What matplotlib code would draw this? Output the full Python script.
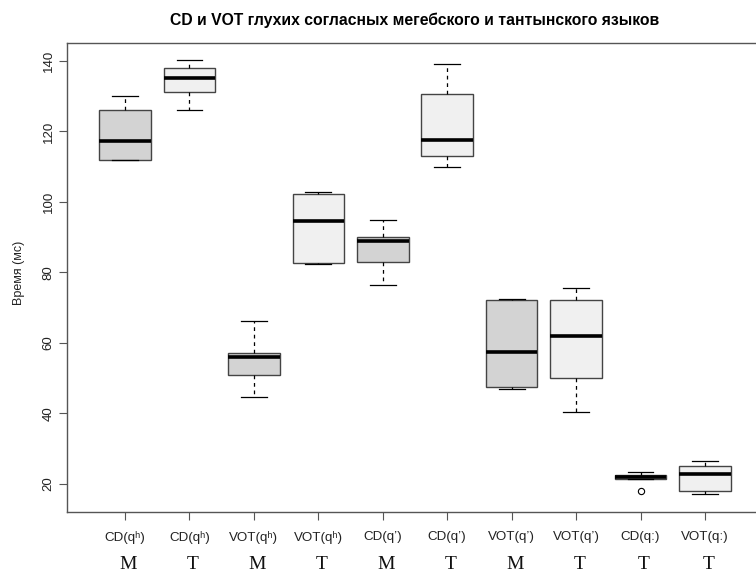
import numpy as np
import matplotlib
matplotlib.use("Agg")
from matplotlib import pyplot as plt

plt.rcParams['font.family'] = ['Liberation Sans', 'DejaVu Sans']

# Box statistics (ms)
labels = ["CD(qʰ)", "CD(qʰ)", "VOT(qʰ)", "VOT(qʰ)", "CD(q’)", "CD(q’)",
          "VOT(q’)", "VOT(q’)", "CD(qː)", "VOT(qː)"]
langs = ["M", "T", "M", "T", "M", "T", "M", "T", "T", "T"]
whis_lo = [112.0, 126.1, 44.6, 82.3, 76.4, 109.9, 46.9, 40.3, 21.5, 17.2]
q1 = [112.0, 131.2, 50.9, 82.6, 83.0, 113.1, 47.4, 50.0, 21.5, 18.1]
med = [117.3, 135.1, 55.9, 94.6, 88.9, 117.6, 57.3, 62.0, 22.0, 22.7]
q3 = [126.1, 138.1, 57.1, 102.2, 90.2, 130.6, 72.1, 72.3, 22.6, 25.0]
whis_hi = [130.1, 140.2, 66.2, 102.9, 94.8, 139.0, 72.6, 75.5, 23.4, 26.6]
outliers = [[], [], [], [], [], [], [], [], [18.1], []]
fills = ["#d3d3d3", "#f0f0f0"]

stats = []
for i in range(len(labels)):
    stats.append(dict(label=labels[i], whislo=whis_lo[i], q1=q1[i], med=med[i],
                      q3=q3[i], whishi=whis_hi[i], fliers=outliers[i]))

fig = plt.figure(figsize=(7.56, 5.75), dpi=100)
ax = fig.add_axes([0.0886, 0.1096, 0.9206, 0.8157])

positions = np.arange(1, len(labels) + 1)
bp = ax.bxp(stats, positions=positions, widths=0.8, capwidths=0.4,
            patch_artist=True,
            boxprops=dict(edgecolor="#444444", linewidth=1.0),
            medianprops=dict(color="black", linewidth=2.6, solid_capstyle="butt"),
            whiskerprops=dict(color="black", linewidth=0.9, linestyle=(0, (3, 3))),
            capprops=dict(color="black", linewidth=0.9),
            flierprops=dict(marker="o", markersize=4.5, markerfacecolor="none",
                            markeredgecolor="black", markeredgewidth=0.8))
for i, box in enumerate(bp["boxes"]):
    box.set_facecolor(fills[i % 2])

ax.set_xlim(0.1, 10.9)
ax.set_ylim(12.06, 145.1)
ax.set_yticks([20, 40, 60, 80, 100, 120, 140])
ax.tick_params(axis="y", labelrotation=90, length=6, width=0.8, color="#555555",
               labelsize=9.5, labelcolor="#222222", pad=3)
ax.tick_params(axis="x", length=6, width=0.8, color="#555555",
               labelsize=9.6, labelcolor="#222222", pad=8)
for lab in ax.get_yticklabels():
    lab.set_verticalalignment("center")
for sp in ax.spines.values():
    sp.set_color("#555555")
    sp.set_linewidth(1.0)

# second row of tick labels: language
for p, lg in zip(positions, langs):
    ax.text(p + 0.05, -0.111, lg, transform=ax.get_xaxis_transform(),
            ha="center", va="center", family="Liberation Serif", fontsize=14,
            color="#111111")

ax.set_ylabel("Время (мс)", fontsize=9, color="#222222")
ax.yaxis.set_label_coords(-0.061, 0.51)
fig.text(0.549, 0.965, "CD и VOT глухих согласных мегебского и тантынского языков",
         ha="center", va="center", fontsize=11.3, fontweight="bold")

fig.savefig("out.png", dpi=100)
